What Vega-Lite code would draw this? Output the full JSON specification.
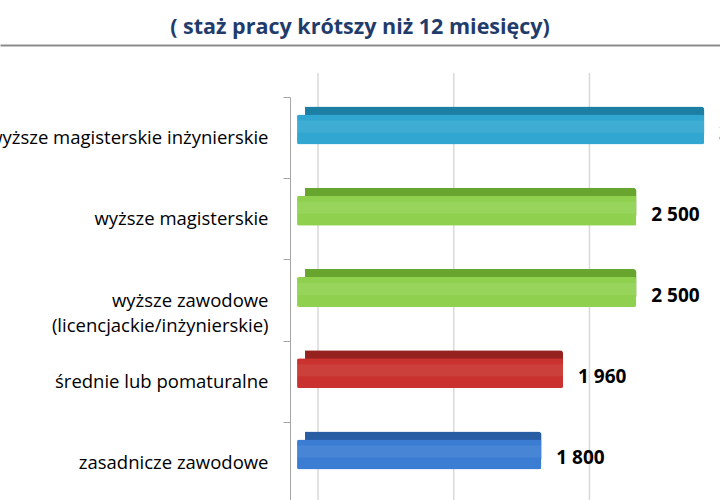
{
  "$schema": "https://vega.github.io/schema/vega-lite/v6.json",
  "autosize": "none",
  "width": 720,
  "height": 406,
  "padding": {"left": 0, "top": 97, "right": 0, "bottom": 0},
  "background": "white",
  "config": {
    "view": {"stroke": null},
    "font": "Open Sans",
    "locale": {"number": {"decimal": ",", "thousands": " ", "grouping": [3], "currency": ["", " zł"]}}
  },
  "title": {
    "text": "( staż pracy krótszy niż 12 miesięcy)",
    "font": "Open Sans",
    "fontSize": 21.5,
    "fontWeight": "bold",
    "color": "#1f3c6b",
    "anchor": "middle",
    "offset": 7
  },
  "data": {
    "values": [
      {"wyksztalcenie": "wyższe magisterskie inżynierskie", "placa": 3000, "kolor": "#31a6d0", "cien": "#1d7ea4"},
      {"wyksztalcenie": "wyższe magisterskie", "placa": 2500, "kolor": "#8fd14f", "cien": "#67a52f"},
      {"wyksztalcenie": "wyższe zawodowe|(licencjackie/inżynierskie)", "placa": 2500, "kolor": "#8fd14f", "cien": "#67a52f"},
      {"wyksztalcenie": "średnie lub pomaturalne", "placa": 1960, "kolor": "#c9322e", "cien": "#96221f"},
      {"wyksztalcenie": "zasadnicze zawodowe", "placa": 1800, "kolor": "#3b7dd2", "cien": "#285ca3"}
    ]
  },
  "encoding": {
    "y": {
      "field": "wyksztalcenie",
      "type": "nominal",
      "sort": null,
      "scale": {"paddingInner": 0, "paddingOuter": 0},
      "axis": {
        "orient": "left",
        "offset": -290,
        "title": null,
        "tickBand": "extent",
        "domainColor": "#a6a6a6",
        "tickColor": "#a6a6a6",
        "tickSize": 7,
        "labelPadding": 15,
        "labelFont": "Open Sans",
        "labelFontSize": 18.5,
        "labelColor": "#000000",
        "labelLimit": 400,
        "labelLineHeight": 25,
        "labelExpr": "split(datum.label, '|')"
      }
    },
    "x": {
      "field": "placa",
      "type": "quantitative",
      "scale": {"domain": [-2189, 3117], "nice": false, "zero": false},
      "axis": {
        "orient": "top",
        "offset": 52,
        "title": null,
        "labels": false,
        "ticks": false,
        "grid": false,
        "domainColor": "#8c8c8c",
        "domainWidth": 2
      }
    }
  },
  "layer": [
    {
      "data": {"values": [{"placa": 0}, {"placa": 1000}, {"placa": 2000}, {"placa": 3000}]},
      "mark": {"type": "rule", "xOffset": 21, "yOffset": -24, "stroke": "#d9d9d9", "strokeWidth": 1.5},
      "encoding": {"y": null}
    },
    {
      "mark": {"type": "bar", "height": 30, "xOffset": 8, "yOffset": -16, "cornerRadius": 3},
      "encoding": {"color": {"field": "cien", "type": "nominal", "scale": null}}
    },
    {
      "mark": {"type": "bar", "height": 30, "yOffset": -8, "cornerRadius": 2},
      "encoding": {"color": {"field": "kolor", "type": "nominal", "scale": null}}
    },
    {
      "mark": {"type": "bar", "height": 12, "yOffset": -11, "fill": "white", "opacity": 0.07}
    },
    {
      "mark": {"type": "text", "align": "left", "baseline": "middle", "dx": 15, "yOffset": -4, "fontSize": 19, "fontWeight": "bold", "color": "#000000", "font": "Open Sans"},
      "encoding": {"text": {"field": "placa", "type": "quantitative", "format": ",d"}}
    }
  ]
}
